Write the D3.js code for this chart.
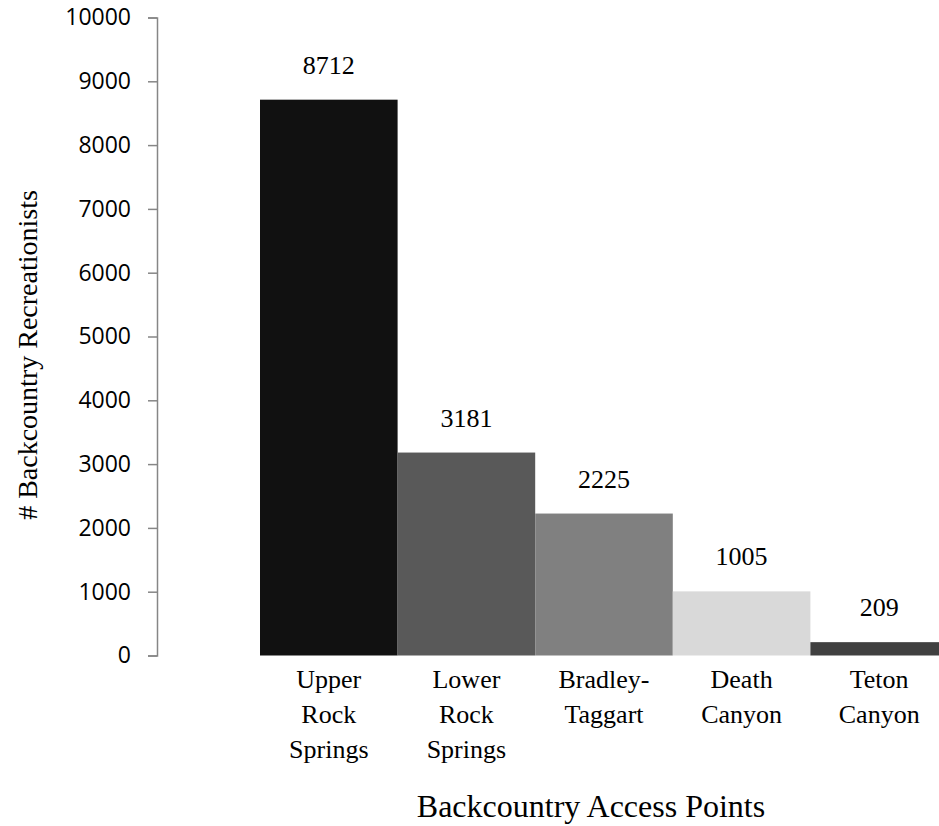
<!DOCTYPE html>
<html>
<head>
<meta charset="utf-8">
<script src="https://cdn.jsdelivr.net/npm/d3@7"></script>
<style>
  body { margin: 0; background: #fff; }
  svg { display: block; }
</style>
</head>
<body>
<div id="chart"></div>
<script>
// Data
const categories = [
  ["Upper", "Rock", "Springs"],
  ["Lower", "Rock", "Springs"],
  ["Bradley-", "Taggart"],
  ["Death", "Canyon"],
  ["Teton", "Canyon"]
];
const values = [8712, 3181, 2225, 1005, 209];
const barColors = ["#111111", "#595959", "#808080", "#d9d9d9", "#404040"];
const yTicks = [0, 1000, 2000, 3000, 4000, 5000, 6000, 7000, 8000, 9000, 10000];

const width = 939, height = 826;
const serif = "'Liberation Serif', 'Times New Roman', serif";

const svg = d3.select("#chart").append("svg")
  .attr("width", width)
  .attr("height", height);

const keys = categories.map(c => c.join(" "));

// Scales
const x = d3.scaleBand()
  .domain(keys)
  .range([260, 948])
  .padding(0);

const y = d3.scaleLinear()
  .domain([0, 10000])
  .range([655.5, 17.5]);

// Y axis
const yAxis = d3.axisLeft(y)
  .tickValues(yTicks)
  .tickSize(9)
  .tickPadding(17)
  .tickFormat(d3.format("d"));

const gy = svg.append("g")
  .attr("transform", "translate(157,0)")
  .call(yAxis);

gy.select(".domain")
  .attr("stroke", "#868686")
  .attr("stroke-width", 1.5);
gy.selectAll(".tick line")
  .attr("stroke", "#868686")
  .attr("stroke-width", 1.5);
gy.selectAll(".tick text")
  .attr("fill", "#000")
  .style("font-family", "'Open Sans', sans-serif")
  .style("font-size", "23px");

// Bars
svg.append("g")
  .selectAll("rect")
  .data(values)
  .join("rect")
    .attr("x", (d, i) => x(keys[i]))
    .attr("y", d => y(d))
    .attr("width", x.bandwidth())
    .attr("height", d => y(0) - y(d))
    .attr("fill", (d, i) => barColors[i]);

// Value labels
svg.append("g")
  .selectAll("text")
  .data(values)
  .join("text")
    .attr("x", (d, i) => x(keys[i]) + x.bandwidth() / 2)
    .attr("y", d => y(d) - 26)
    .attr("text-anchor", "middle")
    .style("font-family", serif)
    .style("font-size", "26px")
    .text(d => d);

// Category labels (multi-line)
const catG = svg.append("g")
  .selectAll("text")
  .data(categories)
  .join("text")
    .attr("text-anchor", "middle")
    .style("font-family", serif)
    .style("font-size", "26px");

catG.each(function(lines, i) {
  const cx = x(keys[i]) + x.bandwidth() / 2;
  d3.select(this).selectAll("tspan")
    .data(lines)
    .join("tspan")
      .attr("x", cx)
      .attr("y", (d, j) => 687.5 + j * 35)
      .text(d => d);
});

// Axis titles
svg.append("text")
  .attr("x", 591)
  .attr("y", 817)
  .attr("text-anchor", "middle")
  .style("font-family", serif)
  .style("font-size", "32px")
  .text("Backcountry Access Points");

svg.append("text")
  .attr("transform", "translate(37,355) rotate(-90)")
  .attr("text-anchor", "middle")
  .style("font-family", serif)
  .style("font-size", "28px")
  .text("# Backcountry Recreationists");
</script>
</body>
</html>
